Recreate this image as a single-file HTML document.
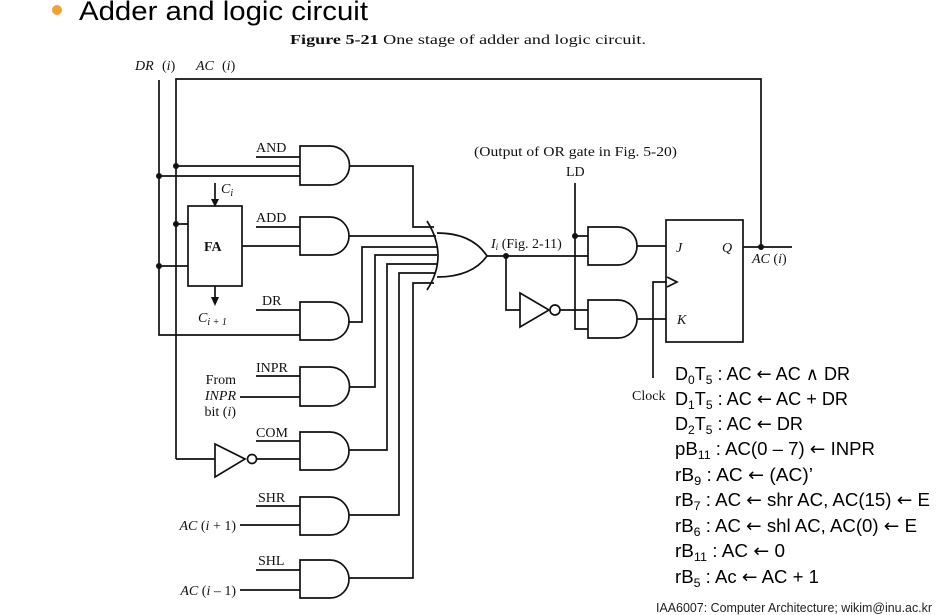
<!DOCTYPE html>
<html><head><meta charset="utf-8"><style>
html,body{margin:0;padding:0;background:#fff;width:946px;height:615px;overflow:hidden}
svg{display:block}
.s{font-family:"Liberation Serif",serif;font-size:14px;fill:#111}
.i{font-style:italic}
.e{font-family:"Liberation Sans",sans-serif;font-size:18px;fill:#000}
.a{font-family:"DejaVu Sans",sans-serif;font-size:18px}
</style></head><body>
<svg width="946" height="615" viewBox="0 0 946 615" xmlns="http://www.w3.org/2000/svg">
<circle cx="57" cy="10" r="5" fill="#f5a031"/>
<text x="79" y="20" font-family="Liberation Sans,sans-serif" font-size="27" textLength="289" lengthAdjust="spacingAndGlyphs">Adder and logic circuit</text>
<text x="290" y="44" class="s" font-size="15" textLength="356" lengthAdjust="spacingAndGlyphs"><tspan font-weight="bold">Figure 5-21</tspan>   One stage of adder and logic circuit.</text>
<text x="135" y="70" class="s i">DR</text><text x="162" y="70" class="s">(<tspan class="i">i</tspan>)</text>
<text x="196" y="70" class="s i">AC</text><text x="222" y="70" class="s">(<tspan class="i">i</tspan>)</text>

<g stroke="#111" stroke-width="1.7" fill="none">
<path d="M159,80 V335 H300"/>
<path d="M176,459 V79 H761 V247"/>
<path d="M159,176 H300 M176,166 H300 M256,157 H300"/>
<path d="M176,224 H188 M159,266 H188 M242,246 H300 M256,227 H300"/>
<path d="M256,310 H300"/>
<rect x="188" y="206" width="54" height="80"/>
<path d="M215,183 V200 M215,286 V300"/>
<path d="M300,146 H330 A19.5,19.5 0 0 1 330,185 H300 Z"/>
<path d="M300,217 H330 A19,19 0 0 1 330,255 H300 Z"/>
<path d="M300,302 H330 A19,19 0 0 1 330,340 H300 Z"/>
<path d="M300,367 H330 A19.5,19.5 0 0 1 330,406 H300 Z"/>
<path d="M300,432 H330 A19,19 0 0 1 330,470 H300 Z"/>
<path d="M300,497 H330 A19,19 0 0 1 330,535 H300 Z"/>
<path d="M300,560 H330 A19,19 0 0 1 330,598 H300 Z"/>
<path d="M256,376 H300 M240,397 H300 M256,441 H300 M176,459 H215 M257,459 H300 M256,506 H300 M240,525 H300 M256,570 H300 M240,590 H300"/>
<path d="M215,444 L245,459 L215,477 Z"/>
<circle cx="252" cy="459" r="4.5"/>
<path d="M349,166 H413 V227 H434"/>
<path d="M349,236 H436"/>
<path d="M349,322 H362 V247 H437"/>
<path d="M349,387 H375 V255 H437"/>
<path d="M349,450 H387 V264 H437"/>
<path d="M349,515 H399 V273 H436"/>
<path d="M349,578 H413 V283 H434"/>
<path d="M427,221 Q449,256 427,290"/>
<path d="M437,233 Q472,233 487,256 Q472,277 437,277"/>
<path d="M487,256 H588 M506,256 V310 H520 M560,310 H588"/>
<path d="M520,293 L549,310 L520,327 Z"/>
<circle cx="555" cy="310" r="5"/>
<path d="M575,183 V329 H588 M575,236 H588"/>
<path d="M588,227 H618 A19,19 0 0 1 618,265 H588 Z"/>
<path d="M588,300 H618 A19,19 0 0 1 618,338 H588 Z"/>
<path d="M637,246 H666 M637,319 H666"/>
<path d="M653,378 V282 H667"/>
<path d="M667,277 L677,282 L667,287"/>
<rect x="666" y="220" width="77" height="122"/>
<path d="M743,247 H792"/>
</g>
<g fill="#111">
<path d="M211,199 L219,199 L215,207 Z"/>
<path d="M211,297 L219,297 L215,306 Z"/>
<circle cx="159" cy="176" r="3"/><circle cx="176" cy="166" r="3"/>
<circle cx="176" cy="224" r="3"/><circle cx="159" cy="266" r="3"/>
<circle cx="506" cy="256" r="3"/><circle cx="575" cy="236" r="3"/>
<circle cx="761" cy="247" r="3"/>
</g>
<text x="256" y="152" class="s">AND</text>
<text x="256" y="222" class="s">ADD</text>
<text x="262" y="305" class="s">DR</text>
<text x="256" y="372" class="s">INPR</text>
<text x="256" y="437" class="s">COM</text>
<text x="258" y="502" class="s">SHR</text>
<text x="258" y="565" class="s">SHL</text>
<text x="204" y="251" class="s" font-weight="bold">FA</text>
<text x="221" y="193" class="s i">C<tspan font-size="10" dy="3">i</tspan></text>
<text x="198" y="322" class="s i">C<tspan font-size="10" dy="3">i + 1</tspan></text>
<text x="236" y="384" class="s" text-anchor="end">From</text>
<text x="236" y="400" class="s i" text-anchor="end">INPR</text>
<text x="236" y="416" class="s" text-anchor="end">bit (<tspan class="i">i</tspan>)</text>
<text x="236" y="530" class="s" text-anchor="end"><tspan class="i">AC</tspan> (<tspan class="i">i</tspan> + 1)</text>
<text x="236" y="595" class="s" text-anchor="end"><tspan class="i">AC</tspan> (<tspan class="i">i</tspan> – 1)</text>
<text x="474" y="156" class="s" textLength="203" lengthAdjust="spacingAndGlyphs">(Output of OR gate in Fig. 5-20)</text>
<text x="566" y="176" class="s">LD</text>
<text x="491" y="248" class="s"><tspan class="i">I<tspan font-size="9" dy="2">i</tspan></tspan><tspan dy="-2"> (Fig. 2-11)</tspan></text>
<text x="676" y="252" class="s i">J</text>
<text x="722" y="252" class="s i">Q</text>
<text x="677" y="324" class="s i">K</text>
<text x="752" y="263" class="s"><tspan class="i">AC</tspan> (<tspan class="i">i</tspan>)</text>
<text x="632" y="400" class="s">Clock</text>

<text x="675" y="380" class="e" textLength="175" lengthAdjust="spacingAndGlyphs">D<tspan font-size="12" dy="4">0</tspan><tspan dy="-4">T</tspan><tspan font-size="12" dy="4">5</tspan><tspan dy="-4"> : AC </tspan><tspan class="a">←</tspan> AC ∧ DR</text>
<text x="675" y="405" class="e" textLength="173" lengthAdjust="spacingAndGlyphs">D<tspan font-size="12" dy="4">1</tspan><tspan dy="-4">T</tspan><tspan font-size="12" dy="4">5</tspan><tspan dy="-4"> : AC </tspan><tspan class="a">←</tspan> AC + DR</text>
<text x="675" y="430" class="e" textLength="128" lengthAdjust="spacingAndGlyphs">D<tspan font-size="12" dy="4">2</tspan><tspan dy="-4">T</tspan><tspan font-size="12" dy="4">5</tspan><tspan dy="-4"> : AC </tspan><tspan class="a">←</tspan> DR</text>
<text x="675" y="455" class="e" textLength="200" lengthAdjust="spacingAndGlyphs">pB<tspan font-size="12" dy="4">11</tspan><tspan dy="-4"> : AC(0 – 7) </tspan><tspan class="a">←</tspan> INPR</text>
<text x="675" y="481" class="e" textLength="138" lengthAdjust="spacingAndGlyphs">rB<tspan font-size="12" dy="4">9</tspan><tspan dy="-4"> : AC </tspan><tspan class="a">←</tspan> (AC)’</text>
<text x="675" y="506" class="e" textLength="255" lengthAdjust="spacingAndGlyphs">rB<tspan font-size="12" dy="4">7</tspan><tspan dy="-4"> : AC </tspan><tspan class="a">←</tspan> shr AC, AC(15) <tspan class="a">←</tspan> E</text>
<text x="675" y="532" class="e" textLength="242" lengthAdjust="spacingAndGlyphs">rB<tspan font-size="12" dy="4">6</tspan><tspan dy="-4"> : AC </tspan><tspan class="a">←</tspan> shl AC, AC(0) <tspan class="a">←</tspan> E</text>
<text x="675" y="557" class="e" textLength="110" lengthAdjust="spacingAndGlyphs">rB<tspan font-size="12" dy="4">11</tspan><tspan dy="-4"> : AC </tspan><tspan class="a">←</tspan> 0</text>
<text x="675" y="583" class="e" textLength="144" lengthAdjust="spacingAndGlyphs">rB<tspan font-size="12" dy="4">5</tspan><tspan dy="-4"> : Ac </tspan><tspan class="a">←</tspan> AC + 1</text>
<text x="656" y="612" font-family="Liberation Sans,sans-serif" font-size="13" fill="#222" textLength="276" lengthAdjust="spacingAndGlyphs">IAA6007: Computer Architecture; wikim@inu.ac.kr</text>
</svg>
</body></html>
